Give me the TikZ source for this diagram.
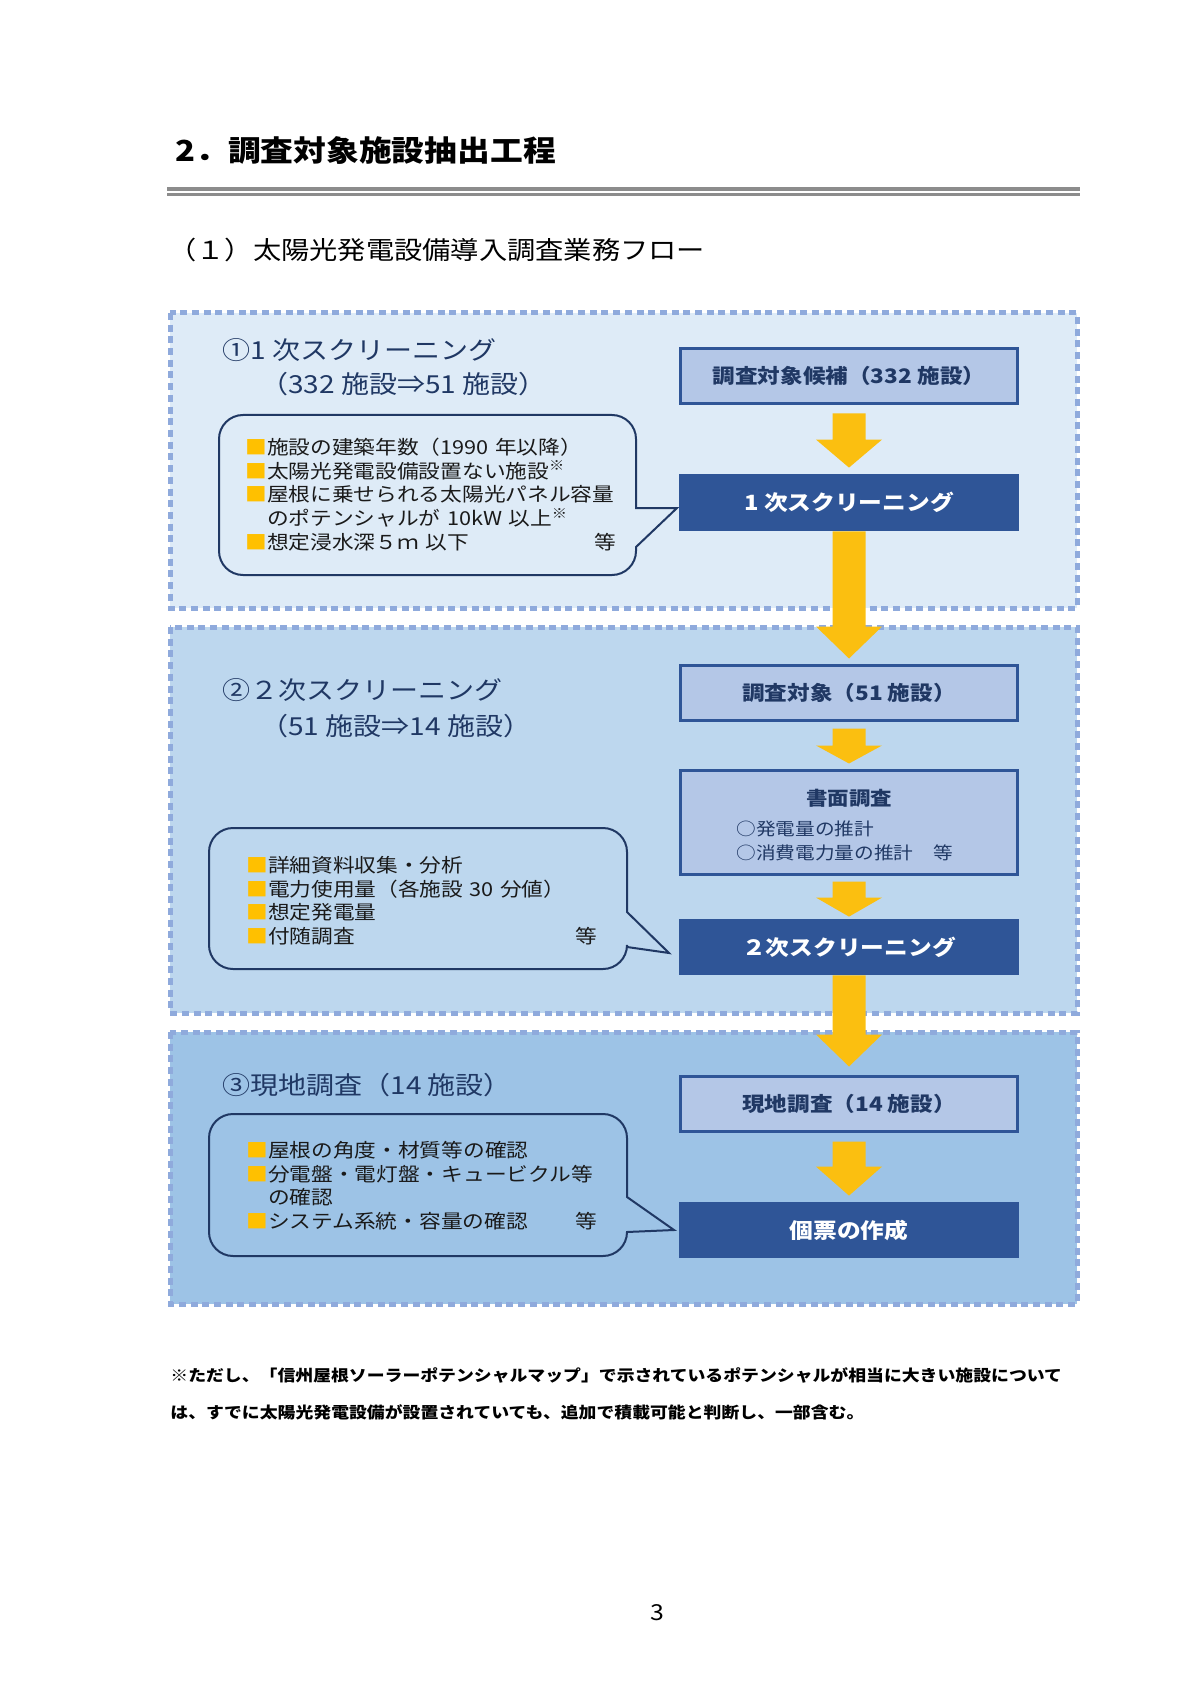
\documentclass[tikz,border=0pt]{standalone}
\usepackage{fontspec}
\setmainfont{Noto Sans CJK JP}[FakeStretch=1.13]
\usetikzlibrary{calc}

\definecolor{navy}{HTML}{203864}
\definecolor{boxblue}{HTML}{2F5597}
\definecolor{boxfill}{HTML}{B4C7E7}
\definecolor{dashblue}{HTML}{8FAADC}
\definecolor{stepone}{HTML}{DEEBF7}
\definecolor{steptwo}{HTML}{BDD7EE}
\definecolor{stepthree}{HTML}{9DC3E6}
\definecolor{arrowgold}{HTML}{FBBF10}
\definecolor{bulletgold}{HTML}{FFC000}
\definecolor{rulegray}{HTML}{8C8C8C}
\definecolor{bodytext}{HTML}{1A1A1A}

\newcommand{\sqbullet}{\textcolor{bulletgold}{■}}
% block arrow: from node, to node, gap below #1, gap above #2, head length
\newcommand{\flowarrow}[5]{%
  \fill[arrowgold] ($(#1.south)+(-16.5,#3)$) -- ($(#1.south)+(16.5,#3)$)
    -- ($(#2.north)+(16.5,-#4-#5)$) -- ($(#2.north)+(33,-#4-#5)$)
    -- ($(#2.north)+(0,-#4)$) -- ($(#2.north)+(-33,-#4-#5)$)
    -- ($(#2.north)+(-16.5,-#4-#5)$) -- cycle;}
% rounded box with a pointer on its right side
\newcommand{\speechbubble}[8]{%
  \draw[bubbleline] (#1+24,#2) -- (#3-24,#2)
    .. controls (#3-10.75,#2) and (#3,#2+10.75) .. (#3,#2+24)
    -- (#3,#5) -- (#6,#7) -- (#3,#8) -- (#3,#4-24)
    .. controls (#3,#4-10.75) and (#3-10.75,#4) .. (#3-24,#4)
    -- (#1+24,#4)
    .. controls (#1+10.75,#4) and (#1,#4-10.75) .. (#1,#4-24)
    -- (#1,#2+24)
    .. controls (#1,#2+10.75) and (#1+10.75,#2) .. (#1+24,#2) -- cycle;}

\begin{document}
\begin{tikzpicture}[x=0.5pt, y=-0.5pt,
  stage/.style={draw=dashblue, line width=2.5pt, dash pattern=on 3.5pt off 2.35pt},
  lightbox/.style={draw=boxblue, fill=boxfill, line width=1.5pt, minimum width=168.5pt, minimum height=27.5pt, text=navy, font=\bfseries\fontsize{10}{12}\selectfont},
  darkbox/.style={fill=boxblue, minimum width=170pt, minimum height=28pt, text=white, font=\bfseries\fontsize{10.5}{12}\selectfont},
  bubbleline/.style={draw=navy, line width=1pt},
  stagetitle/.style={anchor=west, inner sep=0pt, text=navy, font=\fontsize{12.4}{15}\selectfont},
  points/.style={anchor=base west, inner sep=0pt, align=left, text=bodytext, font=\fontsize{9.6}{11.9}\selectfont},
  deskitem/.style={anchor=west, inner sep=0pt, text=navy, font=\fontsize{8.7}{11}\selectfont},
  note/.style={anchor=west, inner sep=0pt, font=\bfseries\fontsize{7.9}{10}\selectfont}]

  \fill[white] (0,0) rectangle (1191,1684);
  \useasboundingbox (0,0) rectangle (1191,1684);

  % heading
  \node[anchor=west, inner sep=0pt, font=\bfseries\fontsize{14.5}{18}\selectfont] (heading) at (175,150) {2．調査対象施設抽出工程};
  \draw[rulegray, line width=1.6pt] (167,189) -- (1080,189);
  \draw[rulegray, line width=1.6pt] (167,194.4) -- (1080,194.4);
  \node[anchor=west, inner sep=0pt, font=\fontsize{12.5}{14}\selectfont] (subheading) at (168,250) {（１）太陽光発電設備導入調査業務フロー};

  % stages
  \draw[stage, fill=stepone] (170,313) rectangle (1077,608);
  \draw[stage, fill=steptwo] (170,627) rectangle (1077,1013);
  \draw[stage, fill=stepthree] (170,1032) rectangle (1077,1304);

  \node[stagetitle] (s1title) at (222,350) {①1~次スクリーニング};
  \node[stagetitle] (s1range) at (260,384.5) {（332~施設⇒51~施設）};
  \node[stagetitle] (s2title) at (222,690) {②２次スクリーニング};
  \node[stagetitle] (s2range) at (260,726) {（51~施設⇒14~施設）};
  \node[stagetitle] (s3title) at (222,1085) {③現地調査（14~施設）};

  % callouts
  \speechbubble{219}{415}{636}{575}{508}{677}{508}{547}
  \speechbubble{209}{828}{627}{969}{912}{669}{953}{947}
  \speechbubble{209}{1114}{627}{1256}{1197}{674}{1230}{1232}

  \node[points, text width=185.5pt] (checks1) at (245,454.3) {\sqbullet 施設の建築年数（1990~年以降）\\
    \sqbullet 太陽光発電設備設置ない施設\textsuperscript{※}\\
    \sqbullet 屋根に乗せられる太陽光パネル容量\\
    \phantom{■}のポテンシャルが~10kW~以上\textsuperscript{※}\\
    \sqbullet 想定浸水深５ｍ~以下\hfill 等};
  \node[points, text width=175.5pt] (checks2) at (246,872.3) {\sqbullet 詳細資料収集・分析\\
    \sqbullet 電力使用量（各施設~30~分値）\\
    \sqbullet 想定発電量\\
    \sqbullet 付随調査\hfill 等};
  \node[points, text width=175.5pt] (checks3) at (246,1157.3) {\sqbullet 屋根の角度・材質等の確認\\
    \sqbullet 分電盤・電灯盤・キュービクル等\\
    \phantom{■}の確認\\
    \sqbullet システム系統・容量の確認\hfill 等};

  % flow
  \node[lightbox] (candidates) at (849,376) {調査対象候補（332~施設）};
  \node[darkbox, minimum height=28.5pt] (screen1) at (849,502.5) {1~次スクリーニング};
  \node[lightbox] (targets) at (849,693) {調査対象（51~施設）};
  \node[lightbox, minimum height=52pt] (desk) at (849,822.5) {};
  \node[inner sep=0pt, text=navy, font=\bfseries\fontsize{9.5}{12}\selectfont] (desktitle) at (849,798) {書面調査};
  \node[deskitem] (deskitem1) at (736,829) {○発電量の推計};
  \node[deskitem] (deskitem2) at (736,853) {○消費電力量の推計　等};
  \node[darkbox] (screen2) at (849,947) {２次スクリーニング};
  \node[lightbox] (site) at (849,1104) {現地調査（14~施設）};
  \node[darkbox] (sheet) at (849,1230) {個票の作成};

  \flowarrow{candidates}{screen1}{8.5}{6}{28}
  \flowarrow{screen1}{targets}{0}{5.5}{32}
  \flowarrow{targets}{desk}{6.5}{5.5}{18}
  \flowarrow{desk}{screen2}{5.5}{2}{19}
  \flowarrow{screen2}{site}{0}{8.5}{32}
  \flowarrow{site}{sheet}{8.5}{6}{29}

  % footnote and page number
  \node[note] (note1) at (170,1375) {※ただし、「信州屋根ソーラーポテンシャルマップ」で示されているポテンシャルが相当に大きい施設について};
  \node[note] (note2) at (170,1412) {は、すでに太陽光発電設備が設置されていても、追加で積載可能と判断し、一部含む。};
  \node[inner sep=0pt, font=\fontsize{11}{13}\selectfont] (pageno) at (657,1613) {3};
\end{tikzpicture}
\end{document}
